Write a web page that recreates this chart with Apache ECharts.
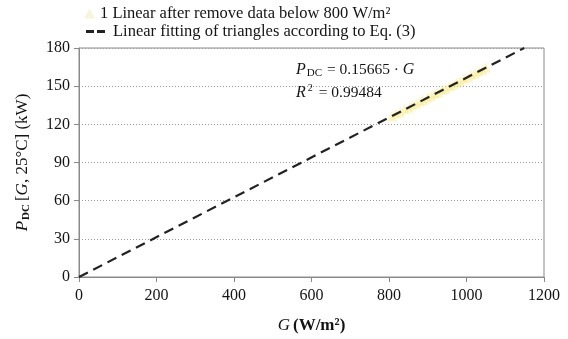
<!DOCTYPE html>
<html>
<head>
<meta charset="utf-8">
<script src="https://cdn.jsdelivr.net/npm/echarts@6/dist/echarts.min.js"></script>
<style>
  html, body { margin: 0; padding: 0; background: #fff; }
  #chart { width: 568px; height: 339px; }
</style>
</head>
<body>
<div id="chart"></div>
<script>
// Irradiance (W/m2) and DC power (kW) measured above 800 W/m2
var irradiance = [808, 818, 829, 840, 851, 861, 870, 880, 889, 899, 908, 918, 927,
                  937, 946, 956, 965, 975, 984, 994, 1003, 1013, 1022, 1032, 1041, 1050];
var powerDC = [126.4, 128.3, 129.7, 131.8, 133.1, 135.0, 136.1, 138.0, 139.1, 141.0, 142.1, 144.0, 145.1,
               146.9, 148.0, 149.9, 151.0, 152.9, 154.0, 155.9, 157.0, 158.9, 160.0, 161.8, 163.0, 164.6];
// Fitted line P = 0.15665 * G, end points
var fitG = [0, 1149];
var fitP = [0, 180];
var slope = '0.15665';
var rSquared = '0.99484';
var xTicks = [0, 200, 400, 600, 800, 1000, 1200];
var yTicks = [0, 30, 60, 90, 120, 150, 180];

var serif = '"Liberation Serif", "Times New Roman", serif';
var scatterName = '1 Linear after remove data below 800 W/m\u00B2';
var lineName = 'Linear fitting of triangles according to Eq. (3)';
var ink = '#141414';
var axisGray = '#8a8a8a';

var chart = echarts.init(document.getElementById('chart'), null, { renderer: 'canvas' });
chart.setOption({
  animation: false,
  backgroundColor: '#fff',
  textStyle: { fontFamily: serif },
  grid: { left: 79, right: 24, top: 48, bottom: 62, show: true, borderColor: axisGray, borderWidth: 1 },
  legend: [
    {
      left: 79,
      top: 0,
      itemWidth: 11,
      itemHeight: 10,
      textStyle: { fontFamily: serif, fontSize: 16.5, color: ink },
      data: [{ name: scatterName, icon: 'triangle', itemStyle: { color: 'rgba(240,240,200,0.8)' } }]
    },
    {
      left: 81,
      top: 18,
      itemWidth: 19,
      itemHeight: 3,
      textStyle: { fontFamily: serif, fontSize: 16.5, color: ink, padding: [0, 0, 0, 3] },
      data: [{
        name: lineName,
        icon: 'path://M0,0h8v3h-8z M11,0h8v3h-8z',
        itemStyle: { color: '#222' }
      }]
    }
  ],
  xAxis: {
    type: 'value',
    min: xTicks[0],
    max: xTicks[xTicks.length - 1],
    interval: 200,
    name: '{i|G} {b|(W/m\u00B2)}',
    nameLocation: 'middle',
    nameGap: 40,
    nameTextStyle: {
      rich: {
        i: { fontFamily: serif, fontStyle: 'italic', fontSize: 17, color: ink },
        b: { fontFamily: serif, fontWeight: 'bold', fontSize: 17, color: ink }
      }
    },
    axisLine: { lineStyle: { color: axisGray } },
    axisTick: { show: true, length: 5, lineStyle: { color: axisGray } },
    axisLabel: {
      fontFamily: serif, fontSize: 16, color: ink, margin: 11,
      formatter: function (v) { return String(v); }
    },
    splitLine: { show: false }
  },
  yAxis: {
    type: 'value',
    min: yTicks[0],
    max: yTicks[yTicks.length - 1],
    interval: 30,
    name: '{i|P}{s|DC} {n|[}{i|G}{n|, 25\u00B0C] (kW)}',
    nameLocation: 'middle',
    nameGap: 47,
    nameRotate: 90,
    nameTextStyle: {
      rich: {
        i: { fontFamily: serif, fontStyle: 'italic', fontSize: 17, color: ink },
        s: { fontFamily: serif, fontWeight: 'bold', fontSize: 11, color: ink, padding: [8, 0, 0, 1] },
        n: { fontFamily: serif, fontSize: 17, color: ink }
      }
    },
    axisLine: { show: true, lineStyle: { color: axisGray } },
    axisTick: { show: true, length: 5, lineStyle: { color: axisGray } },
    axisLabel: { fontFamily: serif, fontSize: 16, color: ink, margin: 9 },
    splitLine: { show: true, lineStyle: { color: '#9a9a9a', type: [1, 2], width: 1 } }
  },
  series: [
    {
      name: scatterName,
      type: 'scatter',
      symbol: 'triangle',
      symbolSize: 10,
      itemStyle: { color: 'rgba(246,232,120,0.5)' },
      data: irradiance.map(function (g, i) { return [g, powerDC[i]]; }),
      z: 2
    },
    {
      name: lineName,
      type: 'line',
      symbol: 'none',
      lineStyle: { color: '#222', width: 2.2, type: [10, 6] },
      data: fitG.map(function (g, i) { return [g, fitP[i]]; }),
      z: 3
    }
  ],
  graphic: [
    {
      type: 'text',
      left: 296,
      top: 62,
      style: {
        text: '{i|P}{s|DC}{n| = ' + slope + ' \u00B7 }{i|G}',
        rich: {
          i: { fontFamily: serif, fontStyle: 'italic', fontSize: 16, fill: ink },
          s: { fontFamily: serif, fontSize: 11, fill: ink, padding: [7, 1, 0, 1] },
          n: { fontFamily: serif, fontSize: 15.5, fill: ink }
        }
      }
    },
    {
      type: 'text',
      left: 296,
      top: 83,
      style: {
        text: '{i|R}{p|2}{n| = ' + rSquared + '}',
        rich: {
          i: { fontFamily: serif, fontStyle: 'italic', fontSize: 16, fill: ink },
          p: { fontFamily: serif, fontSize: 10, fill: ink, padding: [0, 2, 9, 2] },
          n: { fontFamily: serif, fontSize: 15.5, fill: ink }
        }
      }
    }
  ]
});
</script>
</body>
</html>
